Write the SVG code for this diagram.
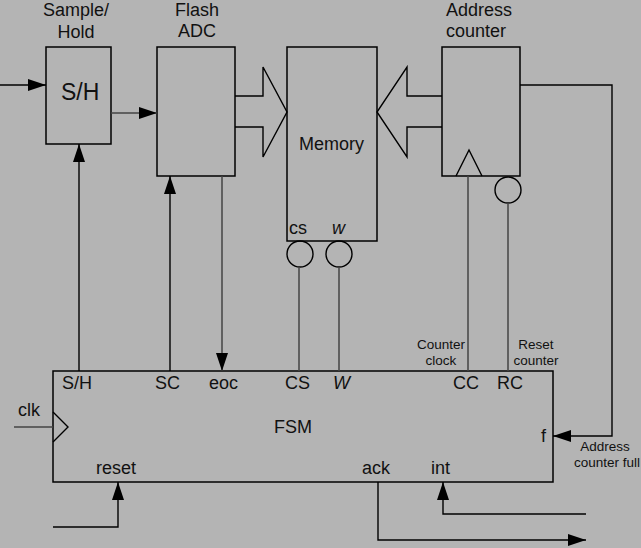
<svg xmlns="http://www.w3.org/2000/svg" width="641" height="548" viewBox="0 0 641 548">
<defs>
<style>
text{font-family:"Liberation Sans",Arial,sans-serif;fill:#111}
.t18{font-size:18px}
.big{font-size:23px}
.sm{font-size:13.5px}
.box{fill:none;stroke:#000;stroke-width:1.5}
.ln{fill:none;stroke:#000;stroke-width:1.4}
.gl{fill:none;stroke:#444;stroke-width:1.5}
.c{text-anchor:middle}
</style>
<marker id="ah" markerUnits="userSpaceOnUse" markerWidth="18" markerHeight="12" refX="18" refY="6" orient="auto">
<path d="M0,0 L18,6 L0,12 z" fill="#000"/>
</marker>
</defs>
<rect width="641" height="548" fill="#b4b4b4"/>

<g id="sh">
<rect class="box" x="46" y="47" width="65" height="97"/>
<text class="t18 c" x="76" y="16">Sample/</text>
<text class="t18 c" x="76" y="38">Hold</text>
<text class="big" x="61" y="100">S/H</text>
</g>

<g id="adc">
<rect class="box" x="157" y="47" width="78" height="129"/>
<text class="t18 c" x="197" y="16">Flash</text>
<text class="t18 c" x="197" y="37">ADC</text>
</g>

<g id="memory">
<rect class="box" x="287" y="47" width="90" height="194"/>
<text class="t18" x="299" y="150">Memory</text>
<text class="t18" x="289" y="234">cs</text>
<text class="t18" x="332" y="234" font-style="italic">w</text>
<circle class="ln" cx="300" cy="254" r="13"/>
<circle class="ln" cx="339" cy="254" r="13"/>
</g>

<g id="counter">
<rect class="box" x="442" y="47" width="78" height="129"/>
<text class="t18" x="446" y="16">Address</text>
<text class="t18" x="446" y="37">counter</text>
<path class="ln" d="M456,176 L469,150 L482,176"/>
<circle class="ln" cx="508" cy="190" r="13"/>
</g>

<g id="fsm">
<rect class="box" x="53" y="371" width="500" height="111"/>
<path class="ln" d="M53,412 L68,427 L53,442"/>
<text class="t18" x="62" y="389">S/H</text>
<text class="t18" x="155" y="389">SC</text>
<text class="t18" x="209" y="389">eoc</text>
<text class="t18" x="285" y="389">CS</text>
<text class="t18" x="333" y="389" font-style="italic">W</text>
<text class="t18" x="453" y="389">CC</text>
<text class="t18" x="497" y="389">RC</text>
<text class="t18 c" x="293" y="433">FSM</text>
<text class="t18" x="541" y="442">f</text>
<text class="t18" x="96" y="474">reset</text>
<text class="t18" x="362" y="474">ack</text>
<text class="t18" x="431" y="474">int</text>
</g>

<g id="connectors">
<path class="ln" d="M0,85 L46,85" marker-end="url(#ah)"/>
<path class="gl" d="M111,113 L157,113" marker-end="url(#ah)"/>
<path class="ln" d="M79,371 L79,144" marker-end="url(#ah)"/>
<path class="ln" d="M170,371 L170,176" marker-end="url(#ah)"/>
<path class="gl" d="M222,176 L222,371" marker-end="url(#ah)"/>
<path class="ln" d="M235,96 L263,96 L263,67 L287,112 L263,157 L263,127 L235,127"/>
<path class="ln" d="M442,96 L407,96 L407,67 L377,112 L407,157 L407,127 L442,127"/>
<path class="gl" d="M299,267 L299,371"/>
<path class="gl" d="M339,267 L339,371"/>
<path class="gl" d="M468,176 L468,371"/>
<path class="gl" d="M508,203 L508,371"/>
<path class="ln" d="M520,85 L612,85 L612,436 L553,436" marker-end="url(#ah)"/>
<path class="gl" d="M14,427 L53,427"/>
<path class="ln" d="M53,527 L118,527 L118,482" marker-end="url(#ah)"/>
<path class="ln" d="M378,482 L378,540 L586,540" marker-end="url(#ah)"/>
<path class="ln" d="M586,514 L443,514 L443,482" marker-end="url(#ah)"/>
</g>

<g id="labels">
<text class="sm c" x="441" y="349">Counter</text>
<text class="sm c" x="441" y="365">clock</text>
<text class="sm c" x="536" y="349">Reset</text>
<text class="sm c" x="536" y="365">counter</text>
<text class="sm c" x="605" y="451">Address</text>
<text class="sm c" x="607" y="467">counter full</text>
<text class="t18" x="18" y="416">clk</text>
</g>
</svg>
